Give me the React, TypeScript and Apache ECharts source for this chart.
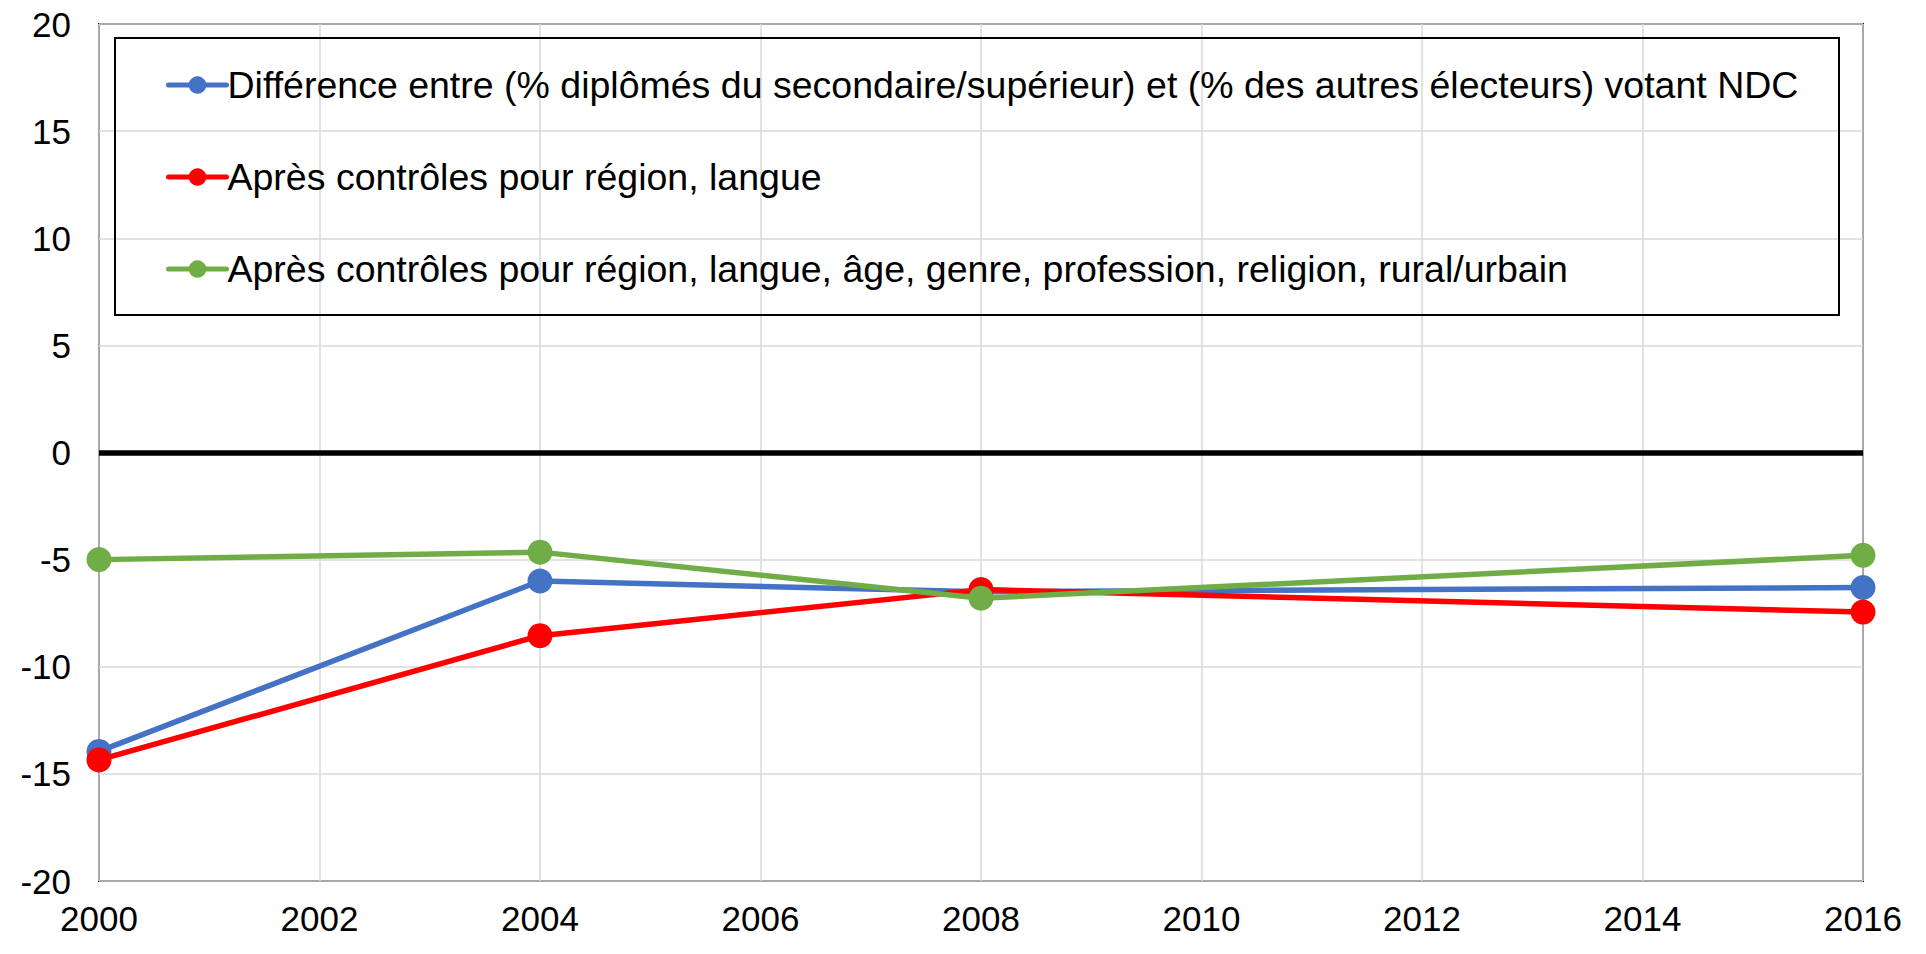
import React, { useEffect, useRef } from "react";
import * as echarts from "echarts";

const years = [2000, 2004, 2008, 2016];
const seriesNames = [
  "Différence entre (% diplômés du secondaire/supérieur) et (% des autres électeurs) votant NDC",
  "Après contrôles pour région, langue",
  "Après contrôles pour région, langue, âge, genre, profession, religion, rural/urbain",
];
const blueValues = [-13.95, -6.0, -6.5, -6.3];
const redValues = [-14.35, -8.55, -6.4, -7.45];
const greenValues = [-5.0, -4.65, -6.8, -4.8];
const colors = ["#4472C4", "#FF0000", "#70AD47"];
const yMin = -20;
const yMax = 20;
const yStep = 5;
const xMin = 2000;
const xMax = 2016;
const xStep = 2;

const FONT = "'Liberation Sans', Arial, sans-serif";

export default function App() {
  const ref = useRef<HTMLDivElement>(null);
  useEffect(() => {
    if (!ref.current) return;
    const chart = echarts.init(ref.current, null, { renderer: "svg" });
    const allValues = [blueValues, redValues, greenValues];
    const series: any[] = allValues.map((vals, i) => ({
      name: seriesNames[i],
      type: "line",
      data: years.map((y, j) => [y, vals[j]]),
      symbol: "circle",
      symbolSize: 25,
      lineStyle: { color: colors[i], width: 5.5, cap: "round", join: "round" },
      itemStyle: { color: colors[i] },
      z: 3 + i,
    }));
    series.unshift({
      name: "zero",
      type: "line",
      data: [],
      silent: true,
      z: 2,
      markLine: {
        silent: true,
        symbol: "none",
        label: { show: false },
        lineStyle: { color: "#000", width: 5.5, type: "solid" },
        data: [{ yAxis: 0 }],
      },
    });
    chart.setOption({
      animation: false,
      backgroundColor: "#fff",
      grid: {
        left: 99,
        right: 63,
        top: 24,
        bottom: 73,
        show: true,
        borderColor: "#1a1a1a",
        borderWidth: 2,
        backgroundColor: "transparent",
      },
      xAxis: {
        type: "value",
        min: xMin,
        max: xMax,
        interval: xStep,
        axisLine: { show: false },
        axisTick: { show: false },
        splitLine: { show: true, lineStyle: { color: "#D9D9D9", width: 1.5 } },
        axisLabel: {
          color: "#000",
          fontFamily: FONT,
          fontSize: 35,
          margin: 20,
          formatter: (v: number) => String(v),
        },
      },
      yAxis: {
        type: "value",
        min: yMin,
        max: yMax,
        interval: yStep,
        axisLine: { show: false },
        axisTick: { show: false },
        splitLine: { show: true, lineStyle: { color: "#D9D9D9", width: 1.5 } },
        axisLabel: {
          color: "#000",
          fontFamily: FONT,
          fontSize: 35,
          margin: 28,
        },
      },
      legend: {
        data: seriesNames,
        orient: "vertical",
        left: 166,
        top: 65,
        padding: 0,
        itemWidth: 58,
        itemHeight: 22,
        itemGap: 52,
        selectedMode: false,
        lineStyle: { width: 5, cap: "round" },
        textStyle: {
          color: "#000",
          fontFamily: FONT,
          fontSize: 37.5,
          lineHeight: 40,
          padding: [0, 0, 0, -4],
        },
      },
      graphic: [
        {
          type: "rect",
          left: 114,
          top: 37,
          shape: { width: 1724, height: 277 },
          style: { fill: "transparent", stroke: "#000", lineWidth: 2 },
          z: 1,
          silent: true,
        },
      ],
      series,
    });
    return () => chart.dispose();
  }, []);
  return (
    <div
      ref={ref}
      style={{ position: "absolute", left: 0, top: 0, width: 1926, height: 954 }}
    />
  );
}
